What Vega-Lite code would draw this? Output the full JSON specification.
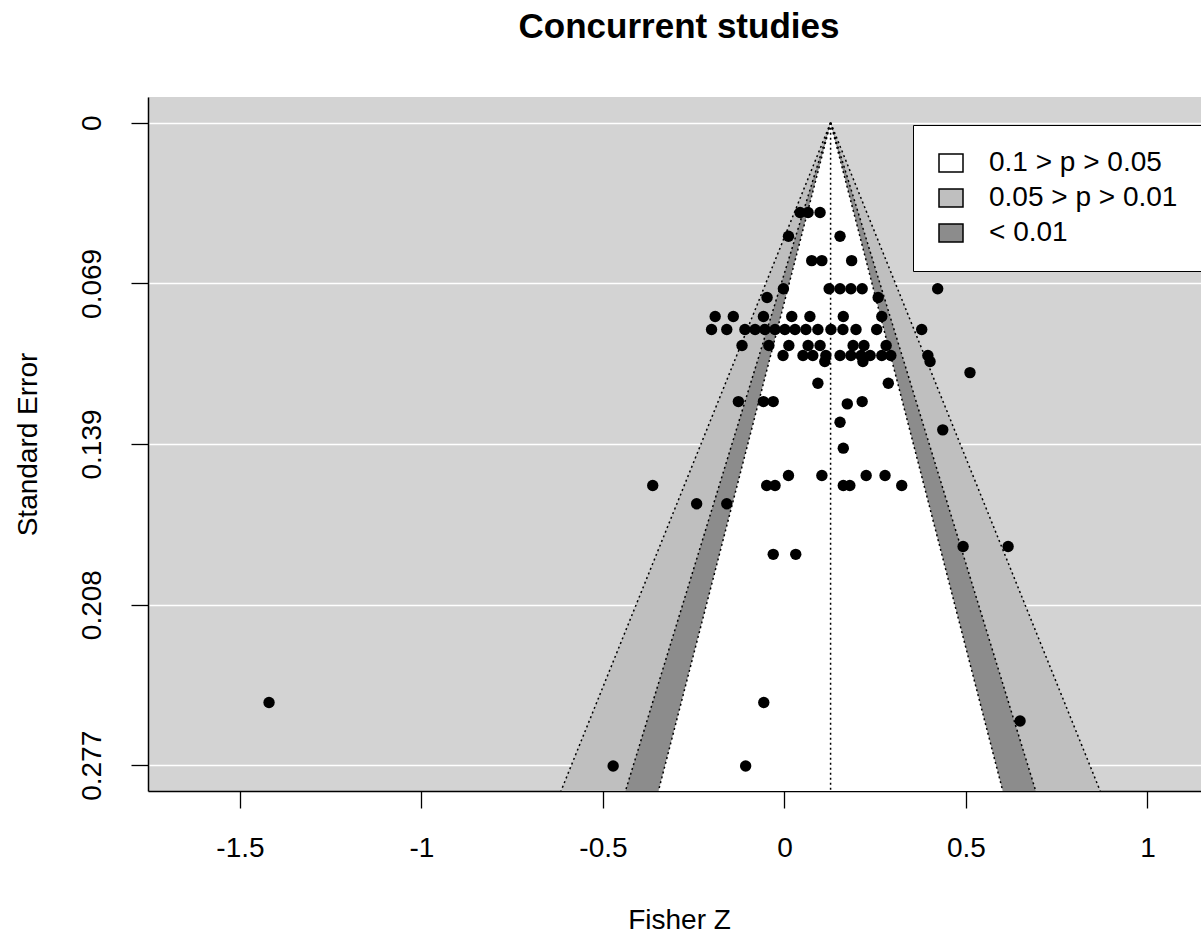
{
  "$schema": "https://vega.github.io/schema/vega-lite/v6.json",
  "width": 1053,
  "height": 694,
  "autosize": {"type": "none"},
  "padding": {"left": 148, "top": 97, "right": 0, "bottom": 143},
  "background": "white",
  "title": {"text": "Concurrent studies", "fontSize": 35, "fontWeight": "bold", "font": "Liberation Sans", "anchor": "middle", "frame": "group", "baseline": "alphabetic", "offset": 24.5, "dx": 4.5, "color": "black"},
  "config": {"font": "Liberation Sans", "view": {"fill": "#d3d3d3", "stroke": null}},
  "datasets": {
    "band99": [
      {"region": "0.05 > p > 0.01", "se": 0, "x": 0.127, "x2": 0.127},
      {"region": "0.05 > p > 0.01", "se": 0.2883, "x": -0.6157, "x2": 0.8697}
    ],
    "band95": [
      {"region": "< 0.01", "se": 0, "x": 0.127, "x2": 0.127},
      {"region": "< 0.01", "se": 0.2883, "x": -0.4381, "x2": 0.6921}
    ],
    "band90": [
      {"region": "0.1 > p > 0.05", "se": 0, "x": 0.127, "x2": 0.127},
      {"region": "0.1 > p > 0.05", "se": 0.2883, "x": -0.3473, "x2": 0.6013}
    ],
    "lines": [
      {"id": "c", "se": 0, "x": 0.127}, {"id": "c", "se": 0.2883, "x": 0.127},
      {"id": "l90", "se": 0, "x": 0.127}, {"id": "l90", "se": 0.2883, "x": -0.3473},
      {"id": "r90", "se": 0, "x": 0.127}, {"id": "r90", "se": 0.2883, "x": 0.6013},
      {"id": "l95", "se": 0, "x": 0.127}, {"id": "l95", "se": 0.2883, "x": -0.4381},
      {"id": "r95", "se": 0, "x": 0.127}, {"id": "r95", "se": 0.2883, "x": 0.6921},
      {"id": "l99", "se": 0, "x": 0.127}, {"id": "l99", "se": 0.2883, "x": -0.6157},
      {"id": "r99", "se": 0, "x": 0.127}, {"id": "r99", "se": 0.2883, "x": 0.8697}
    ],
    "studies": [
      {"x": 0.043, "se": 0.0387}, {"x": 0.065, "se": 0.0387}, {"x": 0.098, "se": 0.0387},
      {"x": 0.011, "se": 0.049}, {"x": 0.153, "se": 0.049},
      {"x": 0.075, "se": 0.0595}, {"x": 0.103, "se": 0.0595}, {"x": 0.185, "se": 0.0595},
      {"x": -0.003, "se": 0.0716}, {"x": 0.123, "se": 0.0716}, {"x": 0.153, "se": 0.0716}, {"x": 0.183, "se": 0.0716}, {"x": 0.214, "se": 0.0716}, {"x": 0.422, "se": 0.0716},
      {"x": -0.048, "se": 0.0754}, {"x": 0.258, "se": 0.0754},
      {"x": -0.191, "se": 0.0836}, {"x": -0.141, "se": 0.0836}, {"x": -0.058, "se": 0.0836}, {"x": 0.02, "se": 0.0836}, {"x": 0.07, "se": 0.0836}, {"x": 0.162, "se": 0.0836}, {"x": 0.268, "se": 0.0836},
      {"x": -0.201, "se": 0.0892}, {"x": -0.159, "se": 0.0892}, {"x": -0.109, "se": 0.0892}, {"x": -0.081, "se": 0.0892}, {"x": -0.054, "se": 0.0892}, {"x": -0.026, "se": 0.0892}, {"x": 0.001, "se": 0.0892}, {"x": 0.029, "se": 0.0892}, {"x": 0.059, "se": 0.0892}, {"x": 0.092, "se": 0.0892}, {"x": 0.128, "se": 0.0892}, {"x": 0.161, "se": 0.0892}, {"x": 0.197, "se": 0.0892}, {"x": 0.254, "se": 0.0892}, {"x": 0.378, "se": 0.0892},
      {"x": -0.117, "se": 0.0961}, {"x": -0.043, "se": 0.0961}, {"x": 0.012, "se": 0.0961}, {"x": 0.065, "se": 0.0961}, {"x": 0.098, "se": 0.0961}, {"x": 0.189, "se": 0.0961}, {"x": 0.219, "se": 0.0961}, {"x": 0.28, "se": 0.0961},
      {"x": -0.004, "se": 0.1004}, {"x": 0.051, "se": 0.1004}, {"x": 0.078, "se": 0.1004}, {"x": 0.114, "se": 0.1004}, {"x": 0.153, "se": 0.1004}, {"x": 0.183, "se": 0.1004}, {"x": 0.211, "se": 0.1004}, {"x": 0.236, "se": 0.1004}, {"x": 0.268, "se": 0.1004}, {"x": 0.293, "se": 0.1004}, {"x": 0.395, "se": 0.1004},
      {"x": 0.111, "se": 0.103}, {"x": 0.216, "se": 0.103}, {"x": 0.401, "se": 0.103},
      {"x": 0.511, "se": 0.1078},
      {"x": 0.092, "se": 0.1124}, {"x": 0.286, "se": 0.1124},
      {"x": -0.127, "se": 0.1203}, {"x": -0.058, "se": 0.1203}, {"x": -0.031, "se": 0.1203}, {"x": 0.214, "se": 0.1203},
      {"x": 0.173, "se": 0.1213},
      {"x": 0.153, "se": 0.1292},
      {"x": 0.436, "se": 0.1325},
      {"x": 0.162, "se": 0.1404},
      {"x": 0.011, "se": 0.1522}, {"x": 0.103, "se": 0.1522}, {"x": 0.225, "se": 0.1522}, {"x": 0.277, "se": 0.1522},
      {"x": -0.363, "se": 0.1565}, {"x": -0.049, "se": 0.1565}, {"x": -0.026, "se": 0.1565}, {"x": 0.162, "se": 0.1565}, {"x": 0.18, "se": 0.1565}, {"x": 0.323, "se": 0.1565},
      {"x": -0.242, "se": 0.1644}, {"x": -0.159, "se": 0.1644},
      {"x": 0.492, "se": 0.1828}, {"x": 0.616, "se": 0.1828},
      {"x": -0.031, "se": 0.1862}, {"x": 0.031, "se": 0.1862},
      {"x": -1.42, "se": 0.2501}, {"x": -0.057, "se": 0.2501},
      {"x": 0.649, "se": 0.2581},
      {"x": -0.472, "se": 0.2775}, {"x": -0.107, "se": 0.2775}
    ]
  },
  "encoding": {
    "x": {
      "field": "x", "type": "quantitative",
      "scale": {"domain": [-1.7534, 1.1474], "nice": false, "zero": false},
      "axis": {
        "title": "Fisher Z", "values": [-1.5, -1, -0.5, 0, 0.5, 1],
        "labelExpr": "toString(datum.value)",
        "grid": false, "domainColor": "black", "domainWidth": 1.5,
        "tickColor": "black", "tickWidth": 1.3, "tickSize": 17,
        "labelFontSize": 28, "labelColor": "black", "labelPadding": 48, "labelBaseline": "alphabetic",
        "labelFlush": false, "labelOverlap": false,
        "titleFontSize": 28, "titleFontWeight": "normal", "titleColor": "black",
        "titleX": 531, "titleY": 137, "titleBaseline": "alphabetic", "titleAlign": "center"
      }
    },
    "y": {
      "field": "se", "type": "quantitative",
      "scale": {"domain": [-0.0111, 0.2883], "nice": false, "zero": false, "reverse": true},
      "axis": {
        "title": "Standard Error", "values": [0, 0.0693, 0.1386, 0.2079, 0.2772],
        "labelExpr": "datum.value == 0 ? '0' : format(datum.value, '.3f')",
        "grid": true, "gridColor": "white", "gridWidth": 1.5, "gridOpacity": 1,
        "domainColor": "black", "domainWidth": 1.5,
        "tickColor": "black", "tickWidth": 1.3, "tickSize": 17,
        "labelFontSize": 28, "labelColor": "black", "labelAngle": -90, "labelAlign": "center", "labelBaseline": "alphabetic", "labelPadding": 31,
        "labelFlush": false, "labelOverlap": false,
        "titleFontSize": 28, "titleFontWeight": "normal", "titleColor": "black",
        "titleAngle": -90, "titleX": -112, "titleY": 347, "titleBaseline": "alphabetic", "titleAlign": "center"
      }
    }
  },
  "layer": [
    {
      "data": {"name": "band99"},
      "mark": {"type": "area", "orient": "horizontal", "opacity": 1},
      "encoding": {
        "x2": {"field": "x2"},
        "fill": {
          "field": "region", "type": "nominal",
          "scale": {"domain": ["0.1 > p > 0.05", "0.05 > p > 0.01", "< 0.01"], "range": ["#ffffff", "#bfbfbf", "#8c8c8c"]},
          "legend": {
            "title": null, "orient": "none", "legendX": 765, "legendY": 28, "padding": 24,
            "fillColor": "white", "strokeColor": "black",
            "symbolType": "M-1,-0.75H1V0.75H-1Z", "symbolSize": 576,
            "symbolStrokeColor": "black", "symbolStrokeWidth": 1.5, "symbolOpacity": 1,
            "labelFontSize": 28, "labelColor": "black", "labelLimit": 400, "labelOffset": 24, "rowPadding": 7,
            "labelExpr": "datum.label + '\u00a0\u00a0'"
          }
        }
      }
    },
    {
      "data": {"name": "band95"},
      "mark": {"type": "area", "orient": "horizontal", "opacity": 1},
      "encoding": {
        "x2": {"field": "x2"},
        "fill": {
          "field": "region", "type": "nominal",
          "scale": {"domain": ["0.1 > p > 0.05", "0.05 > p > 0.01", "< 0.01"], "range": ["#ffffff", "#bfbfbf", "#8c8c8c"]}
        }
      }
    },
    {
      "data": {"name": "band90"},
      "mark": {"type": "area", "orient": "horizontal", "opacity": 1},
      "encoding": {
        "x2": {"field": "x2"},
        "fill": {
          "field": "region", "type": "nominal",
          "scale": {"domain": ["0.1 > p > 0.05", "0.05 > p > 0.01", "< 0.01"], "range": ["#ffffff", "#bfbfbf", "#8c8c8c"]}
        }
      }
    },
    {
      "data": {"name": "lines"},
      "mark": {"type": "line", "color": "black", "strokeWidth": 1.5, "strokeDash": [2, 3]},
      "encoding": {
        "detail": {"field": "id", "type": "nominal"},
        "order": {"field": "se", "type": "quantitative"}
      }
    },
    {
      "data": {"name": "studies"},
      "mark": {"type": "point", "shape": "circle", "filled": true, "size": 130, "color": "black", "opacity": 1, "strokeWidth": 0}
    }
  ]
}
